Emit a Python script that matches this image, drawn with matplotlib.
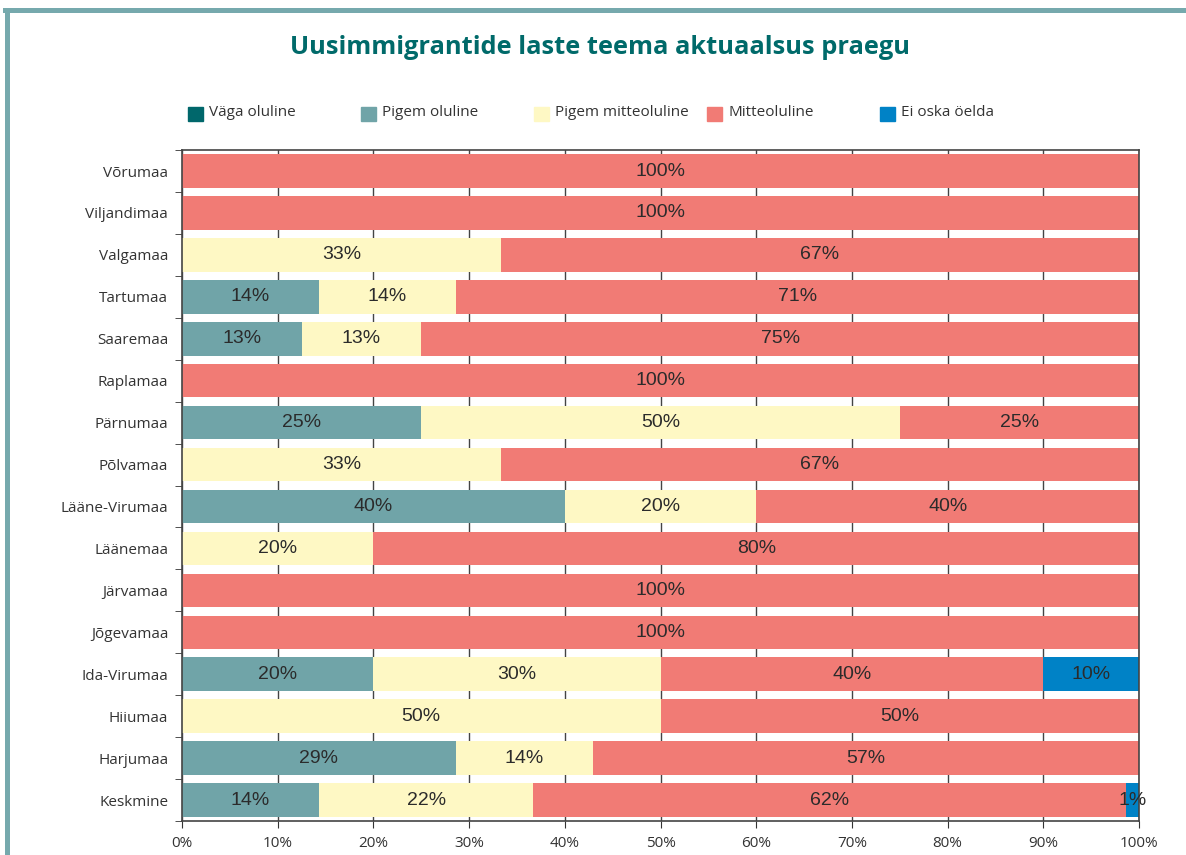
import numpy as np
import matplotlib
matplotlib.use("Agg")
import matplotlib.pyplot as plt
from matplotlib.patches import Rectangle
from matplotlib.lines import Line2D

regions = ["Võrumaa", "Viljandimaa", "Valgamaa", "Tartumaa", "Saaremaa", "Raplamaa",
           "Pärnumaa", "Põlvamaa", "Lääne-Virumaa", "Läänemaa", "Järvamaa", "Jõgevamaa",
           "Ida-Virumaa", "Hiiumaa", "Harjumaa", "Keskmine"]
series = ["Väga oluline", "Pigem oluline", "Pigem mitteoluline", "Mitteoluline", "Ei oska öelda"]
colors = ["#00676b", "#70a4a8", "#fef8c4", "#f17b75", "#0082c6"]

vaga_oluline = [0, 0, 0, 0, 0, 0, 0, 0, 0, 0, 0, 0, 0, 0, 0, 0]
pigem_oluline = [0, 0, 0, 14.3, 12.5, 0, 25, 0, 40, 0, 0, 0, 20, 0, 28.6, 14.3]
pigem_mitteoluline = [0, 0, 33.3, 14.3, 12.5, 0, 50, 33.3, 20, 20, 0, 0, 30, 50, 14.3, 22.4]
mitteoluline = [100, 100, 66.7, 71.4, 75, 100, 25, 66.7, 40, 80, 100, 100, 40, 50, 57.1, 61.9]
ei_oska = [0, 0, 0, 0, 0, 0, 0, 0, 0, 0, 0, 0, 10, 0, 0, 1.4]

data = np.array([vaga_oluline, pigem_oluline, pigem_mitteoluline, mitteoluline, ei_oska])

fig = plt.figure(figsize=(11.86, 8.55), dpi=100)
ax = fig.add_axes([0.1535, 0.0398, 0.8069, 0.7847])

y = np.arange(len(regions))[::-1]
left = np.zeros(len(regions))
for i, name in enumerate(series):
    vals = data[i]
    ax.barh(y, vals, left=left, height=0.8, color=colors[i], zorder=2)
    for yy, l, v in zip(y, left, vals):
        if v > 0:
            # round half up like the source
            ax.text(l + v / 2, yy, f"{int(np.floor(v + 0.5))}%", ha="center", va="center",
                    fontsize=14, color="#2b2b2b", family="Liberation Sans", zorder=3)
    left += vals

ax.set_xlim(0, 100)
ax.set_ylim(-0.5, len(regions) - 0.5)
ax.set_xticks(np.arange(0, 101, 10))
ax.set_xticklabels([f"{t}%" for t in range(0, 101, 10)], family="Open Sans", fontsize=11, color="#333333")
ax.set_yticks(y)
ax.set_yticklabels(regions, family="Open Sans", fontsize=11, color="#333333")
ax.tick_params(axis="y", which="major", length=0, pad=10)
ax.set_yticks(np.arange(-0.5, len(regions), 1), minor=True)
ax.tick_params(axis="y", which="minor", length=5, color="#333333", direction="out")
ax.tick_params(axis="x", length=5, color="#333333", pad=6)
ax.grid(axis="x", color="#444444", linewidth=1, zorder=0)
for s in ax.spines.values():
    s.set_color("#444444")
    s.set_linewidth(1.2)

fig.text(0.506, 0.945, "Uusimmigrantide laste teema aktuaalsus praegu", ha="center", va="center",
         fontsize=18.3, fontweight="bold", color="#006a6a", family="Open Sans")

# legend
for i, name in enumerate(series):
    x0 = 188 + i * 173
    fig.patches.append(Rectangle((x0 / 1186, 1 - 121 / 855), 15 / 1186, 14 / 855,
                                 transform=fig.transFigure, color=colors[i]))
    fig.text((x0 + 21) / 1186, 1 - 113 / 855, name, ha="left", va="center",
             fontsize=11, color="#333333", family="Open Sans")

# frame
fig.lines.append(Line2D([7 / 1186, 7 / 1186], [0, 1 - 10.5 / 855], transform=fig.transFigure,
                        color="#76a9ad", linewidth=3.6))
fig.lines.append(Line2D([5 / 1186, 1], [1 - 10.5 / 855, 1 - 10.5 / 855], transform=fig.transFigure,
                        color="#76a9ad", linewidth=3.6))

fig.savefig("out.png", dpi=100)
